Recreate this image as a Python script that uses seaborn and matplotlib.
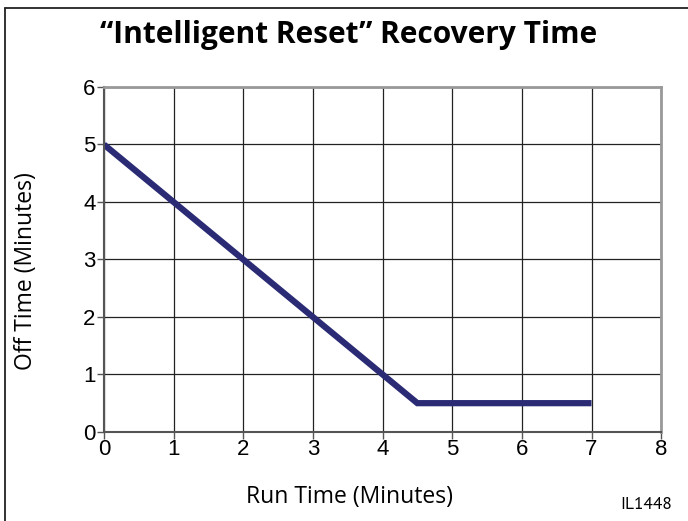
import matplotlib
matplotlib.use('Agg')
import matplotlib.pyplot as plt
from matplotlib.lines import Line2D
import seaborn as sns
import pandas as pd

# dados
run_time = [0, 1, 2, 3, 4, 4.5, 7]
off_time = [5, 4, 3, 2, 1, 0.5, 0.5]
x_ticks = [0, 1, 2, 3, 4, 5, 6, 7, 8]
y_ticks = [0, 1, 2, 3, 4, 5, 6]

df = pd.DataFrame({'run': run_time, 'off': off_time})

sns.set_style('white')
plt.rcParams['font.family'] = ['Liberation Sans', 'DejaVu Sans']
plt.rcParams['text.color'] = 'black'
plt.rcParams['axes.labelcolor'] = 'black'
plt.rcParams['xtick.color'] = 'black'
plt.rcParams['ytick.color'] = 'black'

fig = plt.figure(figsize=(6.88, 5.21), dpi=100)
ax = fig.add_axes([0.151, 0.171, 0.81, 0.662])

sns.lineplot(data=df, x='run', y='off', ax=ax, color='#2a2b74', linewidth=4.5,
             sort=False, solid_capstyle='butt', solid_joinstyle='miter')

ax.set_xlim(0, 8)
ax.set_ylim(0, 6)
ax.set_xticks(x_ticks)
ax.set_yticks(y_ticks)
ax.tick_params(axis='both', labelsize=16, length=5, width=1, color='#555555',
               labelcolor='black', direction='out', pad=1, bottom=True, left=True)
ax.tick_params(axis='x', pad=0)
ax.grid(True, color='#222222', linewidth=0.9)
ax.set_axisbelow(True)

for s in ['top', 'right']:
    ax.spines[s].set_color('#999999')
    ax.spines[s].set_linewidth(2)
for s in ['left', 'bottom']:
    ax.spines[s].set_color('#555555')
    ax.spines[s].set_linewidth(1.5)

ax.set_xlabel('Run Time (Minutes)', fontsize=16.5, family='Open Sans')
ax.set_ylabel('Off Time (Minutes)', fontsize=16.5, family='Open Sans')
ax.xaxis.set_label_coords(0.44, -0.155)
ax.yaxis.set_label_coords(-0.118, 0.467)

fig.text(0.507, 0.932, '\u201cIntelligent Reset\u201d Recovery Time', ha='center', va='center',
         fontsize=21.5, fontweight='bold', family='Open Sans')
fig.text(0.977, 0.03, 'IL1448', ha='right', va='center', fontsize=12.5,
         family='PT Sans')

# moldura (esquerda e topo)
fig.add_artist(Line2D([5/688, 5/688], [0, 1 - 8/521], transform=fig.transFigure,
                      color='#222222', linewidth=1.3))
fig.add_artist(Line2D([5/688, 1], [1 - 8/521, 1 - 8/521], transform=fig.transFigure,
                      color='#222222', linewidth=1.3))

plt.savefig('out.png', dpi=100)
